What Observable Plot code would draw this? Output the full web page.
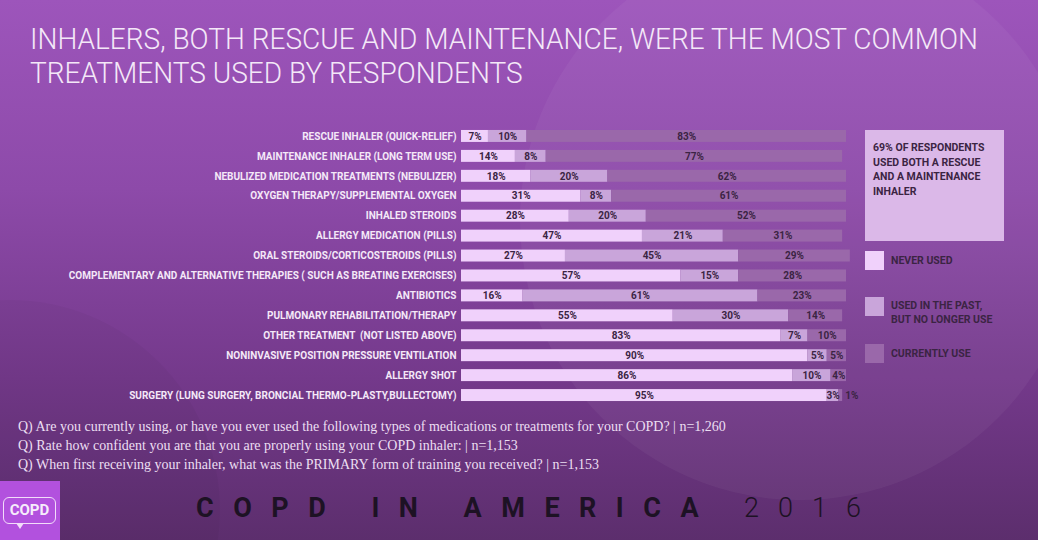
<!DOCTYPE html>
<html><head><meta charset="utf-8">
<script src="https://cdn.jsdelivr.net/npm/d3@7"></script>
<script src="https://cdn.jsdelivr.net/npm/@observablehq/plot@0.6"></script>
<style>
html,body{margin:0;padding:0;background:#5b2e6c;}
#page{position:relative;width:1038px;height:540px;overflow:hidden;font-family:Roboto,"DejaVu Sans",sans-serif;
  background:linear-gradient(180deg,#9d55bb 0%,#8d4aa9 35%,#74398b 70%,#5c2e6d 100%);}
.deco{position:absolute;border-radius:50%;background:rgba(255,255,255,0.045);}
.title{position:absolute;left:30px;color:#f4e8f8;font-weight:300;font-size:29px;line-height:29px;white-space:nowrap;transform-origin:0 0;}
#chart{position:absolute;left:0;top:110px;}
.note{position:absolute;left:865px;top:130px;width:139px;height:111px;background:#dbb8e8;box-sizing:border-box;padding:11px 0 0 8px;
  color:#3b2443;font-weight:700;font-size:10.5px;line-height:14.6px;}
.lg{position:absolute;left:865px;width:19px;height:19px;}
.lgt{position:absolute;left:891px;color:#3b2443;font-weight:700;font-size:10.5px;line-height:14px;white-space:nowrap;}
.q{position:absolute;left:18px;color:#ecdff2;font-family:"Liberation Serif","DejaVu Serif",serif;font-size:14px;line-height:15px;white-space:nowrap;}
.logo{position:absolute;left:0;top:481px;width:60px;height:59px;background:#b251de;}
.bubble{position:absolute;left:3px;top:16px;width:51px;height:25px;border:1.5px solid #f2dcfa;border-radius:6px;color:#f6ecfb;font-weight:700;font-size:15px;line-height:25px;text-align:center;}
.tail{position:absolute;left:16px;top:42px;width:0;height:0;border-left:4px solid transparent;border-right:4px solid transparent;border-top:6px solid #f2dcfa;}
.foot{position:absolute;top:495px;font-size:27px;line-height:27px;white-space:nowrap;color:#1d1224;}
</style></head>
<body><div id="page">
<div class="deco" style="left:520px;top:-60px;width:560px;height:560px;"></div>
<div class="deco" style="left:-200px;top:300px;width:420px;height:420px;background:rgba(0,0,0,0.03)"></div>
<div class="title" id="t1" style="top:25px;">INHALERS, BOTH RESCUE AND MAINTENANCE, WERE THE MOST COMMON</div>
<div class="title" id="t2" style="top:59px;">TREATMENTS USED BY RESPONDENTS</div>
<div id="chart"></div>
<div class="note">69% OF RESPONDENTS USED BOTH A RESCUE AND A MAINTENANCE INHALER</div>
<div id="legend"></div>
<div class="q" style="top:419px;">Q) Are you currently using, or have you ever used the following types of medications or treatments for your COPD? | n=1,260</div>
<div class="q" style="top:438px;">Q) Rate how confident you are that you are properly using your COPD inhaler: | n=1,153</div>
<div class="q" style="top:457px;">Q) When first receiving your inhaler, what was the PRIMARY form of training you received? | n=1,153</div>
<div class="logo"><div class="bubble">COPD</div><div class="tail"></div></div>
<div class="foot" style="left:196px;font-weight:700;letter-spacing:19.5px;">COPD IN AMERICA</div>
<div class="foot" style="left:744px;font-weight:300;letter-spacing:19px;">2016</div>
</div>
<script>
const categories = [
  "RESCUE INHALER (QUICK-RELIEF)",
  "MAINTENANCE INHALER (LONG TERM USE)",
  "NEBULIZED MEDICATION TREATMENTS (NEBULIZER)",
  "OXYGEN THERAPY/SUPPLEMENTAL OXYGEN",
  "INHALED STEROIDS",
  "ALLERGY MEDICATION (PILLS)",
  "ORAL STEROIDS/CORTICOSTEROIDS (PILLS)",
  "COMPLEMENTARY AND ALTERNATIVE THERAPIES ( SUCH AS BREATING EXERCISES)",
  "ANTIBIOTICS",
  "PULMONARY REHABILITATION/THERAPY",
  "OTHER TREATMENT  (NOT LISTED ABOVE)",
  "NONINVASIVE POSITION PRESSURE VENTILATION",
  "ALLERGY SHOT",
  "SURGERY (LUNG SURGERY, BRONCIAL THERMO-PLASTY,BULLECTOMY)"
];
const neverUsed    = [7, 14, 18, 31, 28, 47, 27, 57, 16, 55, 83, 90, 86, 95];
const usedInPast   = [10, 8, 20, 8, 20, 21, 45, 15, 61, 30, 7, 5, 10, 3];
const currentlyUse = [83, 77, 62, 61, 52, 31, 29, 28, 23, 14, 10, 5, 4, 1];
const seriesNames = ["NEVER USED", "USED IN THE PAST, BUT NO LONGER USE", "CURRENTLY USE"];
const seriesColors = ["#f0d1fb", "#c9a5da", "#9a68aa"];

// Title: fit condensed width
const scaleFor = (el, w) => { const r = el.getBoundingClientRect().width; return w / r; };
const s = scaleFor(document.getElementById("t1"), 948);
document.getElementById("t1").style.transform = `scaleX(${s})`;
document.getElementById("t2").style.transform = `scaleX(${s})`;

const seriesValues = [neverUsed, usedInPast, currentlyUse];
const data = categories.flatMap((c, i) => seriesNames.map((s, j) => ({cat: c, series: s, value: seriesValues[j][i]})));

const chart = Plot.plot({
  width: 1038, height: 305,
  marginLeft: 461, marginRight: 192, marginTop: 12, marginBottom: 6,
  x: {domain: [0, 100], axis: null},
  y: {domain: categories, padding: 0.4, round: false, label: null, axis: null},
  color: {domain: seriesNames, range: seriesColors},
  style: {background: "transparent", fontFamily: "Roboto, 'DejaVu Sans', sans-serif", fontSize: "10px", color: "#f4e8f8", overflow: "visible"},
  marks: [
    Plot.barX(data, Plot.stackX({x: "value", y: "cat", fill: "series", order: seriesNames})),
    Plot.text(data, Plot.stackX({x: "value", y: "cat", z: "series", order: seriesNames,
      text: d => d.value >= 2 ? d.value + "%" : null, fill: "#3b2443", fontWeight: 700, fontSize: 10})),
    Plot.text(data, Plot.stackX({x: "value", y: "cat", z: "series", order: seriesNames,
      text: d => d.value < 2 ? d.value + "%" : null, fill: "#3b2443", fontWeight: 700, fontSize: 10, dx: 11})),
    Plot.axisY({tickSize: 0, tickPadding: 5, fontWeight: 700, fontSize: 10, fill: "#f4e8f8", label: null})
  ]
});
document.getElementById("chart").appendChild(chart);

// Legend
const legend = document.getElementById("legend");
const lgTops = [251, 297, 344];
const lgText = ["NEVER USED", "USED IN THE PAST,<br>BUT NO LONGER USE", "CURRENTLY USE"];
const lgTextTops = [254, 299, 347];
seriesNames.forEach((n, i) => {
  const sw = document.createElement("div");
  sw.className = "lg"; sw.style.top = lgTops[i] + "px"; sw.style.background = seriesColors[i];
  legend.appendChild(sw);
  const t = document.createElement("div");
  t.className = "lgt"; t.style.top = lgTextTops[i] + "px"; t.innerHTML = lgText[i];
  legend.appendChild(t);
});
</script>
</body></html>
